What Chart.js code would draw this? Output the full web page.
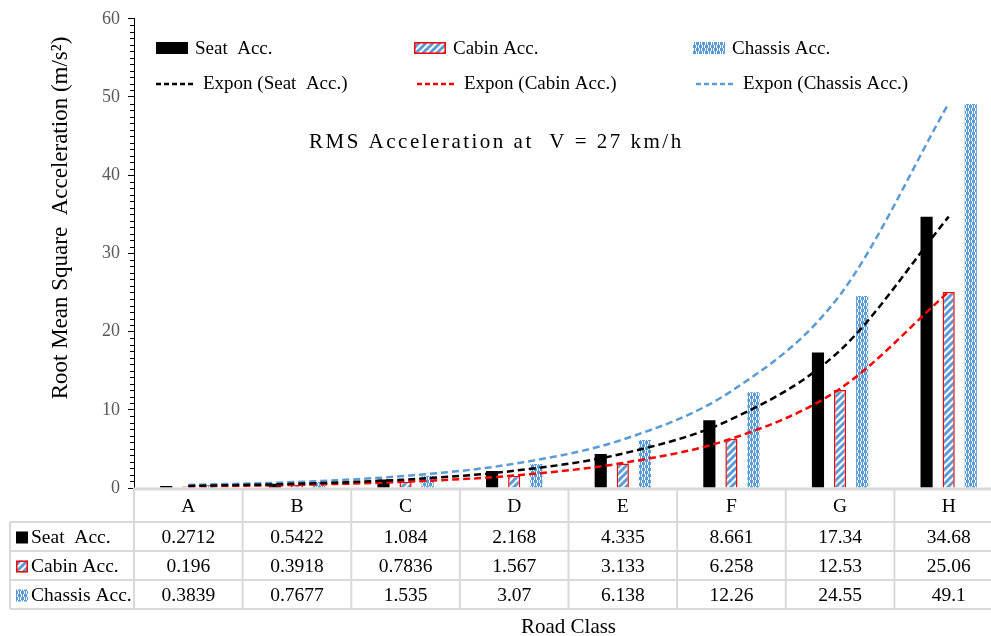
<!DOCTYPE html>
<html>
<head>
<meta charset="utf-8">
<script src="https://cdn.jsdelivr.net/npm/chart.js@4.4.1/dist/chart.umd.min.js"></script>
<style>
  html, body { margin: 0; padding: 0; overflow: hidden; background: #fff; }
  #wrap { position: absolute; left: 0; top: 0; width: 1004px; height: 636px; }
</style>
</head>
<body>
<div id="wrap"><canvas id="chart"></canvas></div>
<script>
// --- data ---
const roadClasses = ['A', 'B', 'C', 'D', 'E', 'F', 'G', 'H'];
const seatAcc = [0.2712, 0.5422, 1.084, 2.168, 4.335, 8.661, 17.34, 34.68];
const cabinAcc = [0.196, 0.3918, 0.7836, 1.567, 3.133, 6.258, 12.53, 25.06];
const chassisAcc = [0.3839, 0.7677, 1.535, 3.07, 6.138, 12.26, 24.55, 49.1];
// exponential trend lines
const seatTrend = [0.27, 0.54, 1.08, 2.2, 4.4, 8.8, 17.6, 34.7];
const cabinTrend = [0.2, 0.4, 0.8, 1.6, 3.2, 6.3, 12.7, 25.1];
const chassisTrend = [0.38, 0.77, 1.55, 3.1, 6.2, 12.4, 24.7, 49.2];
const yMax = 60;
const yStep = 10;
const yMinorPerMajor = 12;

const SERIF = '"Liberation Serif", "Times New Roman", serif';
const BLUE = '#5b9bd5';

// --- fill patterns ---
function makeHatch() {
    const c = document.createElement('canvas');
    c.width = 7; c.height = 7;
    const g = c.getContext('2d');
    g.fillStyle = '#fff';
    g.fillRect(0, 0, 7, 7);
    g.strokeStyle = BLUE;
    g.lineWidth = 3;
    g.beginPath();
    g.moveTo(-1, 8); g.lineTo(8, -1);
    g.moveTo(-4, 4); g.lineTo(4, -4);
    g.moveTo(3, 11); g.lineTo(11, 3);
    g.stroke();
    return g.createPattern(c, 'repeat');
}
function makeCheck() {
    const c = document.createElement('canvas');
    c.width = 6; c.height = 6;
    const g = c.getContext('2d');
    g.fillStyle = '#fff';
    g.fillRect(0, 0, 6, 6);
    g.fillStyle = BLUE;
    g.fillRect(0, 0, 3, 3);
    g.fillRect(3, 3, 3, 3);
    g.fillRect(1, 3, 1, 3);
    g.fillRect(4, 0, 1, 3);
    return g.createPattern(c, 'repeat');
}
const hatchFill = makeHatch();
const checkFill = makeCheck();

// --- table, legend, titles drawn on top of the scales ---
const extras = {
    id: 'extras',
    afterDraw(chart) {
        const ctx = chart.ctx;
        const a = chart.chartArea;
        const xs = chart.scales.x;
        const ys = chart.scales.y;
        const cw = (a.right - a.left) / roadClasses.length;
        ctx.save();

        // minor ticks on the value axis
        ctx.strokeStyle = '#000';
        ctx.lineWidth = 1;
        ctx.beginPath();
        const minor = yStep / yMinorPerMajor;
        for (let k = 1; k * minor < yMax; k++) {
            if (k % yMinorPerMajor === 0) continue;
            const py = Math.round(ys.getPixelForValue(k * minor)) + 0.5;
            ctx.moveTo(a.left - 4, py);
            ctx.lineTo(a.left, py);
        }
        ctx.stroke();

        // data table
        const top = a.bottom;
        const rowH = [33, 29, 29, 29];
        const rows = [top + 1];
        rowH.forEach(h => rows.push(rows[rows.length - 1] + h));
        const tableLeft = 10;
        ctx.strokeStyle = '#d9d9d9';
        ctx.lineWidth = 2;
        ctx.beginPath();
        for (let r = 1; r < rows.length; r++) {
            ctx.moveTo(tableLeft, rows[r]);
            ctx.lineTo(a.right + 10, rows[r]);
        }
        ctx.moveTo(tableLeft, rows[1]);
        ctx.lineTo(tableLeft, rows[4]);
        for (let i = 0; i <= roadClasses.length; i++) {
            const px = a.left + i * cw;
            ctx.moveTo(px, top);
            ctx.lineTo(px, rows[4]);
        }
        ctx.stroke();
        ctx.lineWidth = 3;
        ctx.beginPath();
        ctx.moveTo(a.left, top + 1);
        ctx.lineTo(a.right + 10, top + 1);
        ctx.stroke();

        ctx.fillStyle = '#000';
        ctx.font = '19.5px ' + SERIF;
        ctx.textAlign = 'center';
        ctx.textBaseline = 'middle';
        roadClasses.forEach((lab, i) => {
            ctx.fillText(lab, xs.getPixelForValue(i), (rows[0] + rows[1]) / 2 + 1);
        });
        const series = [
            { name: 'Seat  Acc.', vals: seatAcc, key: 'seat' },
            { name: 'Cabin Acc.', vals: cabinAcc, key: 'cabin' },
            { name: 'Chassis Acc.', vals: chassisAcc, key: 'chassis' }
        ];
        series.forEach((s, r) => {
            const cy = (rows[r + 1] + rows[r + 2]) / 2 + 1;
            ctx.textAlign = 'center';
            s.vals.forEach((v, i) => ctx.fillText(String(v), xs.getPixelForValue(i), cy));
            drawKey(ctx, s.key, 16, cy - 6, 12, 12);
            ctx.fillStyle = '#000';
            ctx.textAlign = 'left';
            ctx.fillText(s.name, 31, cy);
        });

        // legend inside the plot
        ctx.font = '19px ' + SERIF;
        ctx.textAlign = 'left';
        const legendCols = [156, 414, 693];
        const boxItems = [['seat', 'Seat  Acc.'], ['cabin', 'Cabin Acc.'], ['chassis', 'Chassis Acc.']];
        boxItems.forEach((it, i) => {
            drawKey(ctx, it[0], legendCols[i], 42, 32, 12);
            ctx.fillStyle = '#000';
            ctx.fillText(it[1], legendCols[i] + 39, 49);
        });
        const lineItems = [['#000', 'Expon (Seat  Acc.)'], ['#ff0000', 'Expon (Cabin Acc.)'], [BLUE, 'Expon (Chassis Acc.)']];
        lineItems.forEach((it, i) => {
            const lx = legendCols[i] + (i === 0 ? 0 : 3);
            ctx.strokeStyle = it[0];
            ctx.lineWidth = 2.5;
            ctx.setLineDash([5, 3]);
            ctx.beginPath();
            ctx.moveTo(lx, 84);
            ctx.lineTo(lx + 40, 84);
            ctx.stroke();
            ctx.setLineDash([]);
            ctx.fillStyle = '#000';
            ctx.fillText(it[1], lx + 47, 84);
        });

        // in-plot caption
        ctx.font = '21px ' + SERIF;
        ctx.letterSpacing = '2.5px';
        ctx.textAlign = 'left';
        ctx.fillText('RMS Acceleration at  V = 27 km/h', 309, 142);
        ctx.letterSpacing = '0px';

        // axis titles
        ctx.font = '21px ' + SERIF;
        ctx.textAlign = 'center';
        ctx.fillText('Road Class', (a.left + a.right) / 2, 627);
        ctx.font = '23px ' + SERIF;
        ctx.translate(61, 218);
        ctx.rotate(-Math.PI / 2);
        ctx.fillText('Root Mean Square  Acceleration (m/s\u00b2)', 0, 0);
        ctx.restore();
    }
};

function drawKey(ctx, key, x, y, w, h) {
    if (key === 'seat') {
        ctx.fillStyle = '#000';
        ctx.fillRect(x, y, w, h);
    } else if (key === 'cabin') {
        ctx.fillStyle = hatchFill;
        ctx.fillRect(x, y, w, h);
        ctx.strokeStyle = '#ff0000';
        ctx.lineWidth = 1.5;
        ctx.strokeRect(x + 0.75, y + 0.75, w - 1.5, h - 1.5);
    } else {
        ctx.fillStyle = checkFill;
        ctx.fillRect(x, y, w, h);
    }
}

const trendStyle = {
    type: 'line',
    borderDash: [7, 4],
    borderWidth: 2.5,
    pointRadius: 0,
    fill: false,
    cubicInterpolationMode: 'monotone',
    order: 0
};

new Chart(document.getElementById('chart'), {
    type: 'bar',
    data: {
        labels: roadClasses,
        datasets: [
            { label: 'Seat Acc.', data: seatAcc, backgroundColor: '#000', order: 1 },
            { label: 'Cabin Acc.', data: cabinAcc, backgroundColor: hatchFill,
              borderColor: '#ff0000', borderWidth: 1.5, order: 1 },
            { label: 'Chassis Acc.', data: chassisAcc, backgroundColor: checkFill, order: 1 },
            Object.assign({ label: 'Expon (Seat Acc.)', data: seatTrend, borderColor: '#000' }, trendStyle),
            Object.assign({ label: 'Expon (Cabin Acc.)', data: cabinTrend, borderColor: '#ff0000' }, trendStyle),
            Object.assign({ label: 'Expon (Chassis Acc.)', data: chassisTrend, borderColor: BLUE }, trendStyle)
        ]
    },
    options: {
        responsive: true,
        maintainAspectRatio: false,
        animation: false,
        datasets: { bar: { categoryPercentage: 0.61, barPercentage: 0.55 } },
        layout: { padding: { top: 18, bottom: 148, left: 0, right: 1 } },
        plugins: { legend: { display: false }, tooltip: { enabled: false } },
        scales: {
            x: { display: false },
            y: {
                min: 0,
                max: yMax,
                afterFit(scale) { scale.width = 134; },
                ticks: { stepSize: yStep, color: '#595959', padding: 8,
                         font: { family: SERIF, size: 18 } },
                grid: { drawOnChartArea: false, tickLength: 6, color: '#000' },
                border: { color: '#000', width: 1 }
            }
        }
    },
    plugins: [extras]
});
</script>
</body>
</html>
